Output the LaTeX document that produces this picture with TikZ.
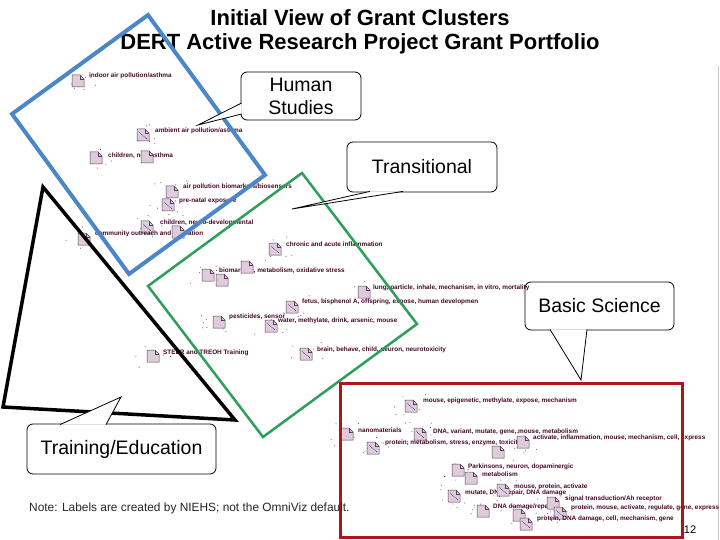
\documentclass[tikz,border=0pt]{standalone}
\usepackage{fontspec}
\setmainfont{Liberation Sans}
\usetikzlibrary{calc}
\definecolor{hsblue}{RGB}{74,134,200}
\definecolor{trgreen}{RGB}{46,158,91}
\definecolor{bsred}{RGB}{172,22,22}
\definecolor{iconfill}{RGB}{222,204,220}
\definecolor{iconline}{RGB}{90,64,86}
\definecolor{labcol}{RGB}{70,10,40}
\tikzset{
  callout/.style={draw, rounded corners=6pt, fill=white, align=center, inner sep=2pt,
                  font=\fontsize{19.5}{23}\selectfont, line width=0.8pt},
  tail/.style   ={draw, fill=white, line width=0.8pt},
  glab/.style   ={anchor=west, inner sep=0pt, text=labcol, font=\fontsize{6.4}{7}\selectfont\bfseries},
  ttl/.style    ={font=\fontsize{22}{25}\selectfont\bfseries, inner sep=0pt},
  grant/.pic    ={\filldraw[fill=iconfill, draw=iconline, line width=0.5pt]
                    (-6,-6) -- (2,-6) -- (6,-2) -- (6,6) -- (-6,6) -- cycle;
                  \draw[iconline, line width=0.4pt] (2,-6) -- (2,-2) -- (6,-2);},
  grantx/.pic   ={\pic {grant};
                  \draw[blue!40!black, densely dotted, line width=0.6pt] (-4,-3) -- (4,4);},
}

\begin{document}
\begin{tikzpicture}[x=1pt, y=-1pt]
  \useasboundingbox (0,0) rectangle (720,540);
  \fill[white] (0,0) rectangle (720,540);
  \draw[black!20, line width=1pt] (718,66) -- (718,540);

  % titles
  \node[ttl] (title1) at (360,18) {Initial View of Grant Clusters};
  \node[ttl] (title2) at (360,44) {DERT Active Research Project Grant Portfolio};

  % basic science callout sits under the cluster labels
  \node[callout, minimum width=149, minimum height=48] (bs) at (599.5,306) {Basic Science};
  \coordinate (bsTip) at (581,380);
  \filldraw[tail] ($(bs.south)+(-49.5,-1)$) -- (bsTip) -- ($(bs.south)+(-12.5,-1)$);

  % scatter dots
  \pgfmathsetseed{11}
  \foreach \cx/\cy in {78/81, 143/135, 96/158, 172/192, 168/205, 147/227, 84/239, 275/249,
                       208/275, 364/292, 292/307, 219/322, 271/326, 153/356, 306/354,
                       411/406, 347/434, 420/434, 373/448, 523/442, 498/452, 458/470,
                       503/490, 454/496, 483/511, 553/503, 560/513, 519/515}
    \foreach \k in {1,...,7}
      \fill[black!75] ({\cx+rand*18},{\cy+rand*12}) circle (0.5pt);

  % grant clusters
  \pic at (78,81) {grant};
  \node[glab] (l1) at (89,76) {indoor air pollution/asthma};
  \pic at (143,135) {grantx};
  \node[glab] (l2) at (155,131) {ambient air pollution/asthma};
  \pic at (96,158) {grant};
  \node[glab] (l3) at (108,156) {children, non-asthma};
  \pic at (147,157) {grant};
  \pic at (172,192) {grant};
  \node[glab] (l4) at (183,187) {air pollution biomarkers/biosensors};
  \pic at (168,205) {grantx};
  \node[glab] (l5) at (179,201) {pre-natal exposure};
  \pic at (147,227) {grantx};
  \node[glab] (l6) at (160,223) {children, neuro-developmental};
  \pic at (84,239) {grant};
  \node[glab] (l7) at (95,234) {community outreach and education};
  \pic at (178,232) {grant};
  \pic at (275,249) {grantx};
  \node[glab] (l8) at (286,244) {chronic and acute inflammation};
  \node[glab] (l9) at (219,271) {biomarkers, metabolism, oxidative stress};
  \pic at (208,275) {grant};
  \pic at (222,280) {grant};
  \pic at (247,267) {grant};
  \pic at (364,292) {grant};
  \node[glab] (l10) at (373,288) {lung, particle, inhale, mechanism, in vitro, mortality};
  \pic at (292,307) {grantx};
  \node[glab] (l11) at (302,302) {fetus, bisphenol A, offspring, expose, human developmen};
  \pic at (219,322) {grant};
  \node[glab] (l12) at (229,317) {pesticides, sensor};
  \node[glab] (l13) at (278,321) {water, methylate, drink, arsenic, mouse};
  \pic at (271,326) {grantx};
  \pic at (153,356) {grant};
  \node[glab] (l14) at (163,353) {STEER and TREOH Training};
  \pic at (306,354) {grantx};
  \node[glab] (l15) at (317,350) {brain, behave, child, neuron, neurotoxicity};
  \pic at (411,406) {grantx};
  \node[glab] (l16) at (423,401) {mouse, epigenetic, methylate, expose, mechanism};
  \pic at (347,434) {grant};
  \node[glab] (l17) at (358,430) {nanomaterials};
  \pic at (420,434) {grantx};
  \node[glab] (l18) at (433,432) {DNA, variant, mutate, gene, mouse, metabolism};
  \pic at (373,448) {grantx};
  \node[glab] (l19) at (385,443) {protein, metabolism, stress, enzyme, toxicity};
  \pic at (523,442) {grant};
  \node[glab] (l20) at (533,438) {activate, inflammation, mouse, mechanism, cell, express};
  \pic at (498,452) {grant};
  \pic at (458,470) {grant};
  \node[glab] (l21) at (468,467) {Parkinsons, neuron, dopaminergic};
  \pic at (471,478) {grant};
  \node[glab] (l22) at (482,474) {metabolism};
  \pic at (454,496) {grantx};
  \node[glab] (l23) at (465,493) {mutate, DNA repair, DNA damage};
  \pic at (503,490) {grantx};
  \node[glab] (l24) at (514,487) {mouse, protein, activate};
  \pic at (483,511) {grant};
  \node[glab] (l25) at (493,507) {DNA damage/repair};
  \pic at (553,503) {grant};
  \node[glab] (l26) at (565,499) {signal transduction/Ah receptor};
  \pic at (560,513) {grantx};
  \node[glab] (l27) at (571,508) {protein, mouse, activate, regulate, gene, express};
  \pic at (519,515) {grant};
  \pic at (526,524) {grantx};
  \node[glab] (l28) at (537,519) {protein, DNA damage, cell, mechanism, gene};

  % group outlines
  \draw[hsblue, line width=4pt] (148,15) -- (265,175) -- (129,274) -- (12,114) -- cycle;
  \draw[trgreen, line width=2.5pt] (302,173) -- (417,324) -- (263,437) -- (148,286) -- cycle;
  \draw[bsred, line width=3pt] (340,383) rectangle (682,537);
  \draw[black, line width=3.5pt] (43,187) -- (235,420) -- (3,407) -- cycle;

  % callouts
  \node[callout, minimum width=120, minimum height=48] (hs) at (301,96) {Human\\Studies};
  \coordinate (hsTip) at (198,125);
  \filldraw[tail] ($(hs.west)+(1,7)$) -- (hsTip) -- ($(hs.west)+(1,18)$);

  \node[callout, minimum width=150, minimum height=50] (tr) at (422,167) {Transitional};
  \coordinate (trTip) at (292,209);
  \filldraw[tail] ($(tr.south)+(-52,-1)$) -- (trTip) -- ($(tr.south)+(-19,-1)$);

  \node[callout, minimum width=189, minimum height=50] (te) at (121.5,449) {Training/Education};
  \coordinate (teTip) at (121,397);
  \filldraw[tail] ($(te.north)+(-61.5,1)$) -- (teTip) -- ($(te.north)+(-15.5,1)$);

  % footer
  \node[anchor=west, inner sep=0pt, font=\fontsize{11.9}{13}\selectfont, text=black!85] (note)
    at (29,508) {Note: Labels are created by NIEHS; not the OmniViz default.};
  \node[inner sep=0pt, font=\fontsize{11}{13}\selectfont] (pgno) at (690,530) {12};
\end{tikzpicture}
\end{document}
